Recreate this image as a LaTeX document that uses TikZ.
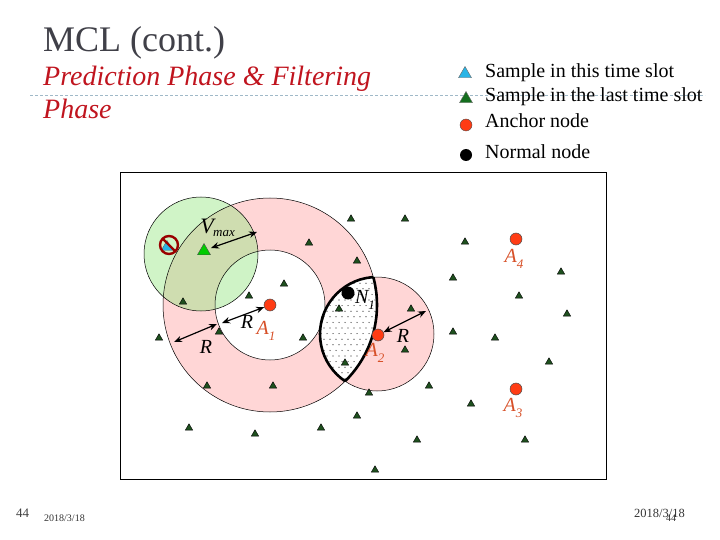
\documentclass[tikz,border=0pt]{standalone}
\usepackage{fontspec}
\setmainfont{Liberation Serif}
\usetikzlibrary{shapes.geometric,arrows.meta,calc}
\definecolor{pinkfill}{RGB}{255,214,214}
\definecolor{greenc}{RGB}{150,230,130}
\definecolor{tridark}{RGB}{30,80,30}
\definecolor{anchorred}{RGB}{255,60,20}
\definecolor{lblred}{RGB}{215,80,40}
\definecolor{titlered}{RGB}{192,20,30}
\definecolor{titlegray}{RGB}{64,64,72}
\definecolor{dashc}{RGB}{160,185,200}
\definecolor{skyb}{RGB}{40,180,230}
\definecolor{legreen}{RGB}{20,110,30}
\newcommand{\lab}[2]{\itshape #1\raisebox{-0.3em}{\fontsize{13}{13}\selectfont #2}}
\begin{document}
\begin{tikzpicture}[x=1pt,y=-1pt,
  tri/.style={regular polygon,regular polygon sides=3,fill=tridark,draw=black,line width=0.4pt,inner sep=0pt,minimum size=8.5pt},
  anch/.style={circle,fill=anchorred,draw=black!70,line width=0.5pt,inner sep=0pt,minimum size=12pt},
  normal/.style={circle,fill=black,inner sep=0pt,minimum size=13pt},
  lbl/.style={font=\fontsize{20}{20}\selectfont\itshape,inner sep=0pt},
  alb/.style={font=\fontsize{20}{20}\selectfont,text=lblred,inner sep=0pt},
  dbl/.style={{Stealth[length=8pt,width=6.5pt]}-{Stealth[length=8pt,width=6.5pt]},line width=1.2pt},
  legtxt/.style={anchor=base west,font=\fontsize{20}{20}\selectfont,inner sep=0pt}]
\useasboundingbox (0,0) rectangle (720,540);
% title
\node[anchor=base west,inner sep=0pt,text=titlegray,font=\fontsize{36}{36}\selectfont] (title) at (43,52) {MCL (cont.)};
\node[anchor=base west,inner sep=0pt,text=titlered,font=\fontsize{28}{28}\selectfont\itshape] (sub1) at (43,86) {Prediction Phase \& Filtering};
\node[anchor=base west,inner sep=0pt,text=titlered,font=\fontsize{28}{28}\selectfont\itshape] (sub2) at (43,119) {Phase};
\draw[dashc,dash pattern=on 3pt off 2pt,line width=0.8pt] (30,95) -- (705,95);
% legend
\node[regular polygon,regular polygon sides=3,fill=skyb,draw=black!60,line width=0.4pt,inner sep=0pt,minimum size=15pt] (lg1) at (465,74) {};
\node[regular polygon,regular polygon sides=3,fill=legreen,draw=black!60,line width=0.4pt,inner sep=0pt,minimum size=15pt] (lg2) at (466,99) {};
\node[circle,fill=anchorred,draw=black!70,inner sep=0pt,minimum size=12pt] (lg3) at (466,125) {};
\node[circle,fill=black,inner sep=0pt,minimum size=12pt] (lg4) at (466,155) {};
\node[legtxt] (lt1) at (485,78) {Sample in this time slot};
\node[legtxt] (lt2) at (485,102) {Sample in the last time slot};
\node[legtxt] (lt3) at (485,128) {Anchor node};
\node[legtxt] (lt4) at (485,159) {Normal node};
% regions
\coordinate (cA1) at (270,305);
\coordinate (cA2) at (377,334);
\coordinate (cG) at (201,254);
\fill[pinkfill] (cA1) circle (107);
\fill[white] (cA1) circle (55);
\fill[pinkfill] (cA2) circle (57);
\begin{scope}
  \clip (cA2) circle (57);
  \fill[white] (cA1) circle (107);
  \clip (cA1) circle (107);
  \foreach \i in {0,...,22}{\foreach \j in {0,...,20}{
    \pgfmathsetmacro{\dx}{318+\i*6+mod(\j,2)*3}
    \pgfmathsetmacro{\dy}{272+\j*5.6}
    \fill[black!85] (\dx,\dy) circle (0.6);}}
\end{scope}
\fill[greenc,opacity=0.45] (cG) circle (57);
\draw[line width=0.5pt] (cA1) circle (107);
\draw[line width=0.5pt] (cA1) circle (55);
\draw[line width=0.5pt] (cA2) circle (57);
\draw[line width=0.5pt] (cG) circle (57);
\begin{scope}
  \clip (cA1) circle (107);
  \draw[line width=2.6pt] (cA2) circle (57);
\end{scope}
\begin{scope}
  \clip (cA2) circle (57);
  \draw[line width=2.6pt] (cA1) circle (107);
\end{scope}
% frame
\draw[line width=1pt] (120,173) rectangle (606,479);
% triangles
\foreach \p [count=\k] in {(351,219),(405,219),(309,243),(465,242),(357,261),(561,272),(284,284),(249,296),(183,302),(453,278),(519,296),(339,309),(411,309),(567,314),(159,338),(219,332),(303,338),(453,332),(495,338),(405,350),(345,363),(549,362),(207,386),(273,386),(369,393),(429,386),(471,404),(357,416),(189,428),(255,434),(321,428),(417,440),(525,440),(375,470)}
  \node[tri] (t\k) at \p {};
% nodes
\node[anch] (A1) at (270,305) {};
\node[anch] (A2) at (378,335) {};
\node[anch] (A3) at (516,389) {};
\node[anch] (A4) at (516,239) {};
\node[normal] (N1) at (348,293) {};
\node[regular polygon,regular polygon sides=3,fill=green!80!black,draw=black!70,line width=0.4pt,inner sep=0pt,minimum size=15pt] (S) at (204,251) {};
% prohibited sample
\node[regular polygon,regular polygon sides=3,fill=skyb,draw=black!60,line width=0.4pt,inner sep=0pt,minimum size=13pt] (P) at (167,247) {};
\coordinate (pc) at (169,245);
\draw[red!60!black,line width=2.4pt] (pc) circle (9);
\draw[red!60!black,line width=2.4pt] ($(pc)+(-6.4,-6.4)$) -- ($(pc)+(6.4,6.4)$);
% arrows
\coordinate (vmaxst) at (211,248);
\coordinate (vmaxend) at (257,232);
\draw[dbl] (vmaxst) -- (vmaxend);
\coordinate (r1a) at (222,323);
\coordinate (r2a) at (174,342);
\coordinate (r2b) at (217,324);
\coordinate (r3b) at (426,311);
\draw[dbl] (A1) -- (r1a);
\draw[dbl] (r2a) -- (r2b);
\draw[dbl] (A2) -- (r3b);
% labels
\node[lbl,font=\fontsize{22}{22}\selectfont\itshape] (Vl) at (207,226) {V};
\node[lbl,font=\fontsize{13}{13}\selectfont\itshape] (ml) at (224,234) {max};
\node[lbl] (R1) at (247,322) {R};
\node[lbl] (R2) at (206,347) {R};
\node[lbl] (R3) at (403,336) {R};
\node[alb] (A1l) at (266,331) {\lab{A}{1}};
\node[alb] (A2l) at (375,353) {\lab{A}{2}};
\node[alb] (A3l) at (513,408) {\lab{A}{3}};
\node[alb] (A4l) at (514,259) {\lab{A}{4}};
\node[lbl,text=black] (N1l) at (365,300) {\lab{N}{1}};
% footer
\node[anchor=base west,inner sep=0pt,text=black!75,font=\fontsize{13}{13}\selectfont] (pg) at (16,517) {44};
\node[anchor=base west,inner sep=0pt,text=black!80,font=\fontsize{10}{10}\selectfont] (d1) at (44,521) {2018/3/18};
\node[anchor=base west,inner sep=0pt,text=black!80,font=\fontsize{12.5}{12.5}\selectfont] (d2) at (634,517) {2018/3/18};
\node[anchor=base west,inner sep=0pt,text=black!80,font=\fontsize{10}{10}\selectfont] (pg2) at (666,521) {44};
\end{tikzpicture}
\end{document}
